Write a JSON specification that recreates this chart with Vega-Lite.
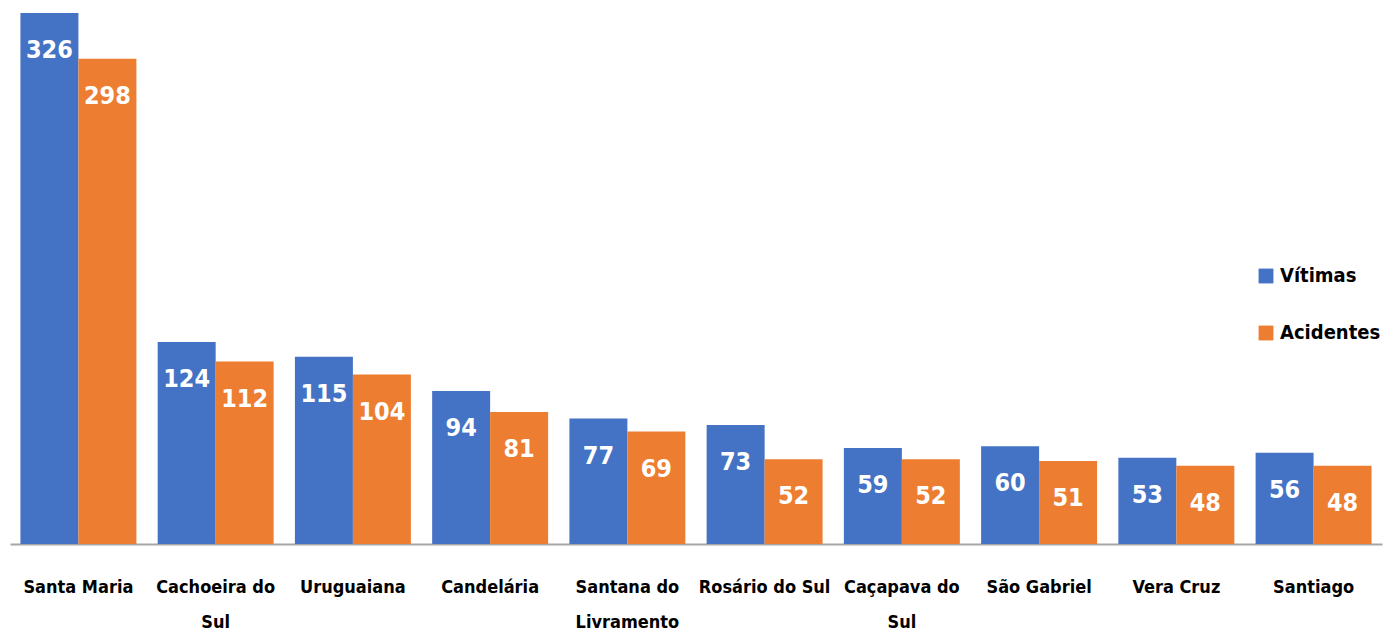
{
  "$schema": "https://vega.github.io/schema/vega-lite/v6.json",
  "autosize": {"type": "none"},
  "width": 1372,
  "height": 544,
  "padding": {"left": 10, "top": 0, "right": 3, "bottom": 93},
  "background": "white",
  "config": {"view": {"stroke": null}},
  "data": {
    "values": [
      {"cidade": "Santa Maria", "serie": "Vítimas", "valor": 326},
      {"cidade": "Santa Maria", "serie": "Acidentes", "valor": 298},
      {"cidade": "Cachoeira do Sul", "serie": "Vítimas", "valor": 124},
      {"cidade": "Cachoeira do Sul", "serie": "Acidentes", "valor": 112},
      {"cidade": "Uruguaiana", "serie": "Vítimas", "valor": 115},
      {"cidade": "Uruguaiana", "serie": "Acidentes", "valor": 104},
      {"cidade": "Candelária", "serie": "Vítimas", "valor": 94},
      {"cidade": "Candelária", "serie": "Acidentes", "valor": 81},
      {"cidade": "Santana do Livramento", "serie": "Vítimas", "valor": 77},
      {"cidade": "Santana do Livramento", "serie": "Acidentes", "valor": 69},
      {"cidade": "Rosário do Sul", "serie": "Vítimas", "valor": 73},
      {"cidade": "Rosário do Sul", "serie": "Acidentes", "valor": 52},
      {"cidade": "Caçapava do Sul", "serie": "Vítimas", "valor": 59},
      {"cidade": "Caçapava do Sul", "serie": "Acidentes", "valor": 52},
      {"cidade": "São Gabriel", "serie": "Vítimas", "valor": 60},
      {"cidade": "São Gabriel", "serie": "Acidentes", "valor": 51},
      {"cidade": "Vera Cruz", "serie": "Vítimas", "valor": 53},
      {"cidade": "Vera Cruz", "serie": "Acidentes", "valor": 48},
      {"cidade": "Santiago", "serie": "Vítimas", "valor": 56},
      {"cidade": "Santiago", "serie": "Acidentes", "valor": 48}
    ]
  },
  "encoding": {
    "x": {
      "field": "cidade",
      "type": "nominal",
      "sort": null,
      "scale": {"paddingInner": 0.155, "paddingOuter": 0.076},
      "axis": {
        "title": null,
        "labelAngle": 0,
        "ticks": false,
        "domainColor": "#a6a6a6",
        "domainWidth": 2,
        "labelPadding": 34,
        "labelFont": "DejaVu Sans Condensed",
        "labelFontWeight": "bold",
        "labelFontSize": 18,
        "labelColor": "#000000",
        "labelLineHeight": 35,
        "labelBaseline": "top",
        "labelExpr": "datum.value == 'Cachoeira do Sul' ? ['Cachoeira do', 'Sul'] : datum.value == 'Santana do Livramento' ? ['Santana do', 'Livramento'] : datum.value == 'Caçapava do Sul' ? ['Caçapava do', 'Sul'] : datum.value"
      }
    },
    "xOffset": {
      "field": "serie",
      "type": "nominal",
      "sort": ["Vítimas", "Acidentes"],
      "scale": {"paddingInner": 0, "paddingOuter": 0}
    },
    "y": {
      "field": "valor",
      "type": "quantitative",
      "scale": {"domain": [0, 334], "nice": false, "zero": true},
      "axis": null
    }
  },
  "layer": [
    {
      "mark": {"type": "bar"},
      "encoding": {
        "color": {
          "field": "serie",
          "type": "nominal",
          "sort": ["Vítimas", "Acidentes"],
          "scale": {"domain": ["Vítimas", "Acidentes"], "range": ["#4472C4", "#ED7D31"]},
          "legend": {
            "title": null,
            "orient": "none",
            "legendX": 1246,
            "legendY": 266,
            "symbolType": "square",
            "symbolSize": 220,
            "symbolStrokeWidth": 0,
            "rowPadding": 37,
            "labelFont": "DejaVu Sans Condensed",
            "labelFontWeight": "bold",
            "labelFontSize": 20,
            "labelColor": "#000000",
            "labelOffset": 4,
            "labelLimit": 200
          }
        }
      }
    },
    {
      "mark": {
        "type": "text",
        "baseline": "middle",
        "align": "center",
        "dy": 37,
        "color": "white",
        "font": "DejaVu Sans Condensed",
        "fontWeight": "bold",
        "fontSize": 25
      },
      "encoding": {
        "text": {"field": "valor", "type": "quantitative"}
      }
    }
  ]
}
